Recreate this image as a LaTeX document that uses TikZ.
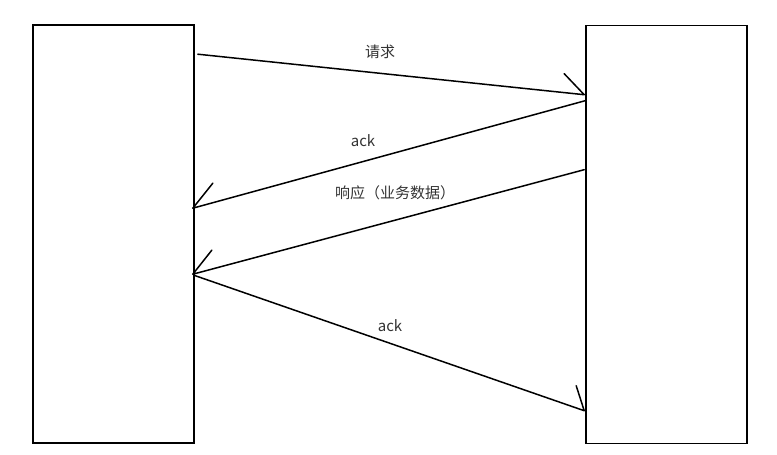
\documentclass[tikz,border=0pt]{standalone}
\usepackage{fontspec}
\setmainfont{Noto Sans CJK SC}
\usetikzlibrary{calc}

\begin{document}
\begin{tikzpicture}[
    x=1pt, y=-1pt,
    party/.style={rectangle, draw, line width=1.6pt, minimum width=161pt, minimum height=418pt, inner sep=0pt},
    msg/.style={line width=1.5pt, line cap=round, line join=round},
    lbl/.style={text=black!80, font=\fontsize{15}{18}\selectfont, inner sep=0pt}
]
\useasboundingbox (0,0) rectangle (777,455);

\node[party] (client) at (113.5,234) {};
\node[party] (server) at (666.5,234.5) {};

% end points of the messages
\coordinate (req-s)  at ($(client.north east)+(3,30)$);
\coordinate (req-e)  at ($(server.north west)+(-1,70)$);
\coordinate (ack1-s) at ($(server.north west)+(0,76)$);
\coordinate (ack1-e) at ($(client.north east)+(-2,184)$);
\coordinate (resp-s) at ($(server.north west)+(-1,145)$);
\coordinate (resp-e) at ($(client.north east)+(-2,250)$);
\coordinate (ack2-s) at ($(client.north east)+(-1,251)$);
\coordinate (ack2-e) at ($(server.north west)+(-1,386)$);

\draw[msg] (req-s) -- (req-e) -- ++(-20,-21);
\draw[msg] (ack1-s) -- (ack1-e) -- ++(20,-25);
\draw[msg] (resp-s) -- (resp-e) -- ++(19,-24);
\draw[msg] (ack2-s) -- (ack2-e) -- ++(-8,-25);

\node[lbl] (req-lbl) at (380,52) {请求};
\node[lbl] (ack1-lbl) at (363,141) {ack};
\node[lbl] (resp-lbl) at (395,193) {响应（业务数据）};
\node[lbl] (ack2-lbl) at (390,326) {ack};

\end{tikzpicture}
\end{document}
